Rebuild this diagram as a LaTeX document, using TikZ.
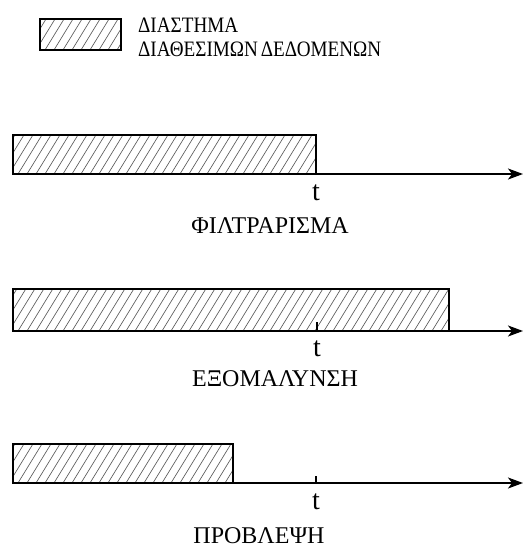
\documentclass[tikz,border=0pt]{standalone}
\usepackage{fontspec}
\setmainfont{Liberation Serif}
\usetikzlibrary{arrows.meta}

\tikzset{
  hatchline/.style={line width=0.65pt, black!65},
  span/.style={draw, line width=1.6pt, inner sep=0pt, outer sep=0pt, anchor=north west,
    path picture={
      \foreach \i in {-40,-31,...,460}
        \draw[hatchline] ([xshift=\i pt]path picture bounding box.south west) -- ++(27pt,44pt);
    }},
  axis/.style={line width=1.6pt, -{Stealth[length=15pt,width=11pt,inset=4pt]}},
  tick/.style={line width=1.2pt},
  lbl/.style={font=\fontsize{24}{26}\selectfont, inner sep=0pt, anchor=base},
  keytext/.style={font=\fontsize{22}{24}\selectfont, inner sep=0pt, anchor=base west, xscale=0.87},
  tlbl/.style={font=\fontsize{28}{30}\selectfont, inner sep=0pt, anchor=base}
}

\begin{document}
\begin{tikzpicture}[x=1pt, y=-1pt]
  \useasboundingbox (0,0) rectangle (525,547);

  % legend
  \node[span, minimum width=81pt, minimum height=31pt] (key) at (40,19) {};
  \node[keytext] (key1) at (138,32) {ΔΙΑΣΤΗΜΑ};
  \node[keytext] (key2) at (138,56) {ΔΙΑΘΕΣΙΜΩΝ\hspace{0.15em}ΔΕΔΟΜΕΝΩΝ};

  % filtering
  \node[span, minimum width=303pt, minimum height=39pt] (bar1) at (13,135) {};
  \coordinate (end1) at (523,174);
  \draw[axis] (bar1.south east) -- (bar1.south east -| end1);
  \node[tlbl] (t1) at (316,200) {t};
  \node[lbl] (lab1) at (270,233) {ΦΙΛΤΡΑΡΙΣΜΑ};

  % smoothing
  \node[span, minimum width=436pt, minimum height=42pt] (bar2) at (13,289) {};
  \coordinate (end2) at (523,331);
  \draw[axis] (bar2.south east) -- (bar2.south east -| end2);
  \coordinate (tk2) at (317,331);
  \draw[tick] (tk2) -- ++(0,-9);
  \node[tlbl] (t2) at (317,356) {t};
  \node[lbl] (lab2) at (275,386) {ΕΞΟΜΑΛΥΝΣΗ};

  % prediction
  \node[span, minimum width=220pt, minimum height=39pt] (bar3) at (13,444) {};
  \coordinate (end3) at (523,483);
  \draw[axis] (bar3.south east) -- (bar3.south east -| end3);
  \coordinate (tk3) at (316,483);
  \draw[tick] (tk3) -- ++(0,-7);
  \node[tlbl] (t3) at (316,509) {t};
  \node[lbl] (lab3) at (259,543) {ΠΡΟΒΛΕΨΗ};
\end{tikzpicture}
\end{document}
